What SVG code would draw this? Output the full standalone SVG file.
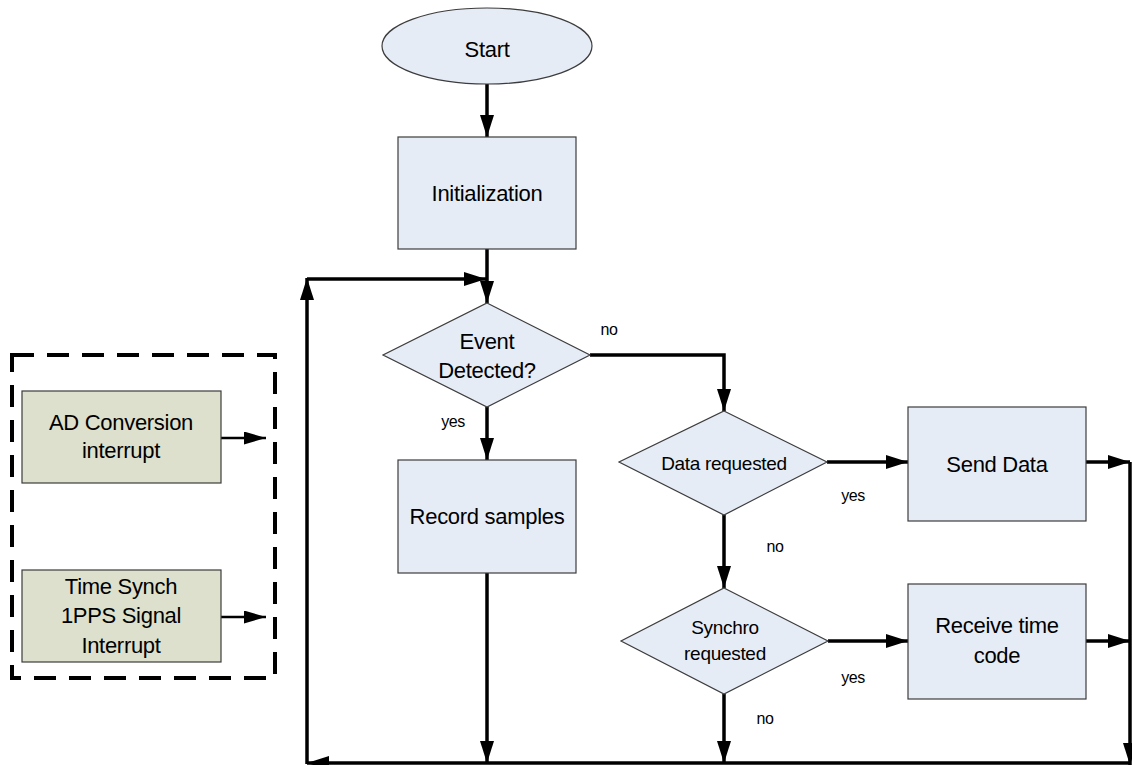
<svg xmlns="http://www.w3.org/2000/svg" width="1132" height="765" viewBox="0 0 1132 765">
<defs>
<style>
.box{fill:#e6ecf6;stroke:#3c3c3c;stroke-width:1.2}
.gbox{fill:#dde0cc;stroke:#3c3c3c;stroke-width:1.2}
.t{font-family:"Liberation Sans",Arial,sans-serif;font-size:22px;letter-spacing:-0.3px;fill:#000;text-anchor:middle}
.tm{font-family:"Liberation Sans",Arial,sans-serif;font-size:19px;letter-spacing:-0.3px;fill:#000;text-anchor:middle}
.ts{font-family:"Liberation Sans",Arial,sans-serif;font-size:16px;letter-spacing:-0.4px;fill:#000;text-anchor:middle}
.c{fill:none;stroke:#000;stroke-width:3.5;marker-end:url(#ah)}
.cl{fill:none;stroke:#000;stroke-width:3.5}
.cthin{fill:none;stroke:#000;stroke-width:2.5;marker-end:url(#ahs)}
</style>
<marker id="ah" markerUnits="userSpaceOnUse" markerWidth="23" markerHeight="15" refX="22" refY="7" orient="auto">
<path d="M0,0 L22,7 L0,14 z" fill="#000"/>
</marker>
<marker id="ahs" markerUnits="userSpaceOnUse" markerWidth="23" markerHeight="14" refX="22" refY="6.5" orient="auto">
<path d="M0,0 L22,6.5 L0,13 z" fill="#000"/>
</marker>
</defs>
<rect width="1132" height="765" fill="#fff"/>

<g id="connectors">
<path class="c" d="M487,84 L487,137"/>
<path class="c" d="M487,249 L487,303"/>
<path class="c" d="M307,279 L486,279"/>
<path class="c" d="M307,764 L307,278"/>
<path class="c" d="M1130,763 L307,763"/>
<path class="c" d="M1130,462 L1130,765"/>
<path class="c" d="M590,355 L724,355 L724,411"/>
<path class="c" d="M487,407 L487,460"/>
<path class="c" d="M487,573 L487,763"/>
<path class="c" d="M827,462 L908,462"/>
<path class="c" d="M724,515 L724,588"/>
<path class="c" d="M828,641 L908,641"/>
<path class="c" d="M724,694 L724,763"/>
<path class="c" d="M1086,462 L1130,462"/>
<path class="c" d="M1086,641 L1130,641"/>
<path class="cthin" d="M221,438 L266,438"/>
<path class="cthin" d="M221,617 L266,617"/>
<text class="ts" x="609" y="335">no</text>
<text class="ts" x="453" y="427">yes</text>
<text class="ts" x="853" y="501">yes</text>
<text class="ts" x="775" y="552">no</text>
<text class="ts" x="853" y="683">yes</text>
<text class="ts" x="765" y="724">no</text>
</g>

<g id="interrupts-group">
<rect x="12" y="355" width="263" height="323" fill="none" stroke="#000" stroke-width="4" stroke-dasharray="22 13"/>
</g>

<g id="start">
<ellipse class="box" cx="487" cy="46" rx="105" ry="38"/>
<text class="t" x="487" y="57">Start</text>
</g>

<g id="initialization">
<rect class="box" x="398" y="137" width="178" height="112"/>
<text class="t" x="487" y="201">Initialization</text>
</g>

<g id="event-detected">
<polygon class="box" points="487,303 590,355 487,407 383,355"/>
<text class="t" x="487" y="349">Event</text>
<text class="t" x="487" y="378">Detected?</text>
</g>

<g id="record-samples">
<rect class="box" x="398" y="460" width="178" height="113"/>
<text class="t" x="487" y="524">Record samples</text>
</g>

<g id="data-requested">
<polygon class="box" points="724,411 827,462 724,515 619,462"/>
<text class="tm" x="724" y="470">Data requested</text>
</g>

<g id="send-data">
<rect class="box" x="908" y="407" width="178" height="114"/>
<text class="t" x="997" y="472">Send Data</text>
</g>

<g id="synchro-requested">
<polygon class="box" points="724,588 828,641 724,694 621,641"/>
<text class="tm" x="725" y="634">Synchro</text>
<text class="tm" x="725" y="660">requested</text>
</g>

<g id="receive-time-code">
<rect class="box" x="908" y="584" width="178" height="115"/>
<text class="t" x="997" y="633">Receive time</text>
<text class="t" x="997" y="663">code</text>
</g>

<g id="ad-conversion">
<rect class="gbox" x="22" y="391" width="199" height="92"/>
<text class="t" x="121" y="430">AD Conversion</text>
<text class="t" x="121" y="458">interrupt</text>
</g>

<g id="time-synch">
<rect class="gbox" x="22" y="570" width="199" height="92"/>
<text class="t" x="121" y="594">Time Synch</text>
<text class="t" x="121" y="623">1PPS Signal</text>
<text class="t" x="121" y="653">Interrupt</text>
</g>
</svg>
